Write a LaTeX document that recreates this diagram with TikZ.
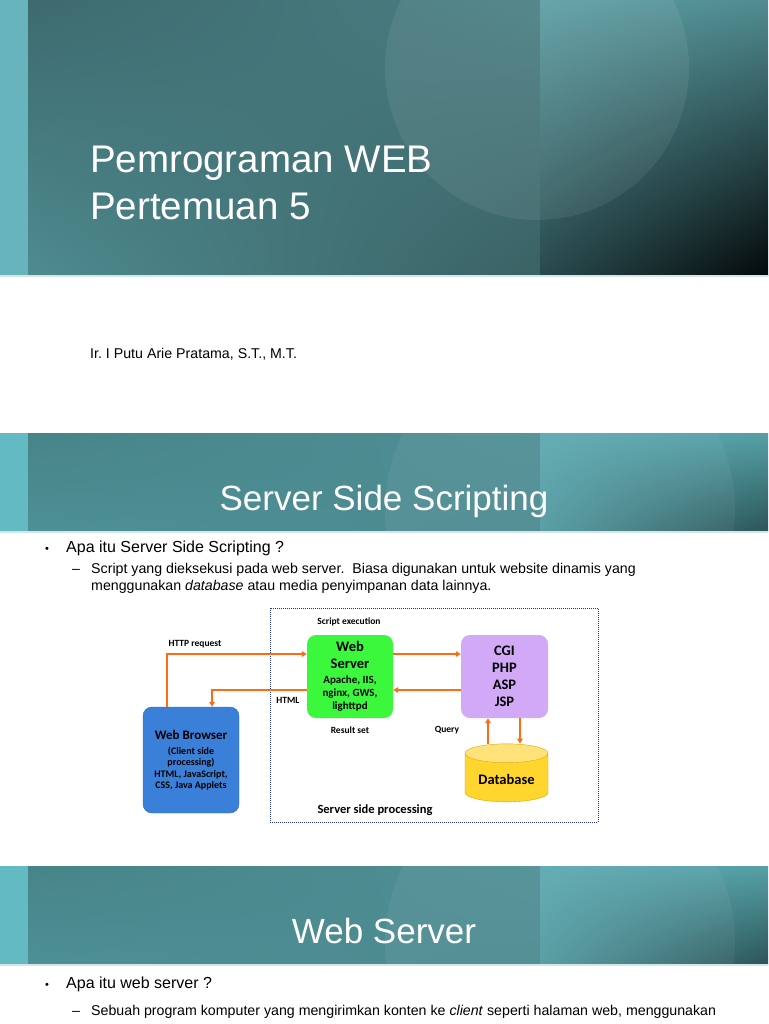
\documentclass[tikz,border=0pt]{standalone}
\usepackage{fontspec}
\setmainfont{Liberation Sans}
\newfontfamily\diagfont{Carlito}
\usepackage{tikz}
\usetikzlibrary{positioning, shapes.geometric, arrows.meta, shadings}
\frenchspacing
\definecolor{stripColor}{HTML}{64BAC3}
\definecolor{lineColor}{HTML}{D3E6E8}
\definecolor{flowColor}{HTML}{FF6A13}
\definecolor{boxColor}{HTML}{23349A}
\definecolor{webGreen}{HTML}{3CF83C}
\definecolor{cgiLilac}{HTML}{D1A9F7}
\definecolor{browserBlue}{HTML}{3B80D8}
\definecolor{browserEdge}{HTML}{2F68B8}
\definecolor{dbBody}{HTML}{FFD52E}
\definecolor{dbTop}{HTML}{FFE27A}
\definecolor{dbEdge}{HTML}{D8A700}
% banner shades
\definecolor{titleUL}{HTML}{3D6A6F}
\definecolor{titleUR}{HTML}{4A7F83}
\definecolor{titleLL}{HTML}{4E8B8F}
\definecolor{titleLR}{HTML}{3A6164}
\definecolor{titleRUL}{HTML}{5C9EA3}
\definecolor{titleRUR}{HTML}{508C91}
\definecolor{titleRLL}{HTML}{294A4D}
\definecolor{titleRLR}{HTML}{04090A}
\definecolor{headUL}{HTML}{478488}
\definecolor{headUR}{HTML}{4F9096}
\definecolor{headLL}{HTML}{4D9096}
\definecolor{headLR}{HTML}{4B8A8F}
\definecolor{headRUL}{HTML}{5DA9B0}
\definecolor{headRUR}{HTML}{55A0A6}
\definecolor{headRLL}{HTML}{529AA1}
\definecolor{headRLR}{HTML}{2C5558}

\begin{document}
\begin{tikzpicture}[x=1pt, y=-1pt,
    headline/.style={text=white, inner sep=0pt, anchor=base west},
    bodytext/.style={inner sep=0pt, anchor=base west, font=\fontsize{14.2}{17}\selectfont},
    srvbox/.style={rounded corners=9pt, minimum width=86pt, minimum height=83pt,
        align=center, inner sep=1pt, font=\diagfont\bfseries\fontsize{14.5}{17}\selectfont},
    tag/.style={inner sep=0pt, font=\diagfont\bfseries\fontsize{9.5}{11}\selectfont},
    flow/.style={-{Triangle[length=5pt,width=5.5pt]}, draw=flowColor, line width=1.6pt}]

    \useasboundingbox (0,0) rectangle (768,1024);
    \fill[white] (0,0) rectangle (768,1024);

    % title slide banner
    \fill[color=stripColor!90!gray] (0,0) rectangle (28,275);
    \shade[upper left=titleUL, upper right=titleUR, lower left=titleLL, lower right=titleLR]
        (28,0) rectangle (540,275);
    \shade[upper left=titleRUL, upper right=titleRUR, lower left=titleRLL, lower right=titleRLR]
        (540,0) rectangle (768,275);
    \begin{scope}
        \clip (28,0) rectangle (768,275);
        \fill[white, opacity=0.07] (537,68) circle (152pt);
    \end{scope}
    \fill[color=lineColor] (0,275) rectangle (768,277);

    % the two section banners
    \foreach \top in {433, 866} {
        \fill[color=stripColor] (0,\top) rectangle (28,\top+98);
        \shade[upper left=headUL, upper right=headUR, lower left=headLL, lower right=headLR]
            (28,\top) rectangle (540,\top+98);
        \shade[upper left=headRUL, upper right=headRUR, lower left=headRLL, lower right=headRLR]
            (540,\top) rectangle (768,\top+98);
        \begin{scope}
            \clip (28,\top) rectangle (768,\top+98);
            \fill[white, opacity=0.05] (560,\top+77) circle (175pt);
        \end{scope}
        \fill[color=lineColor] (0,\top+98) rectangle (768,\top+100);
    }

    % texts of the slides
    \node[headline, font=\fontsize{38.5}{45}\selectfont] (ttl1) at (90,173) {Pemrograman WEB};
    \node[headline, font=\fontsize{38.5}{45}\selectfont] (ttl2) at (90,219) {Pertemuan 5};
    \node[bodytext] (author) at (90,358) {Ir. I Putu Arie Pratama, S.T., M.T.};

    \node[headline, anchor=base, font=\fontsize{35}{40}\selectfont] (sss) at (384,510) {Server Side Scripting};
    \node[bodytext] at (45,552) {\fontsize{11}{12}\selectfont •};
    \node[bodytext, font=\fontsize{16}{19}\selectfont] (q1) at (66,552) {Apa itu Server Side Scripting ?};
    \node[bodytext] at (72,573) {–};
    \node[bodytext] (a1) at (91,573) {Script yang dieksekusi pada web server.\ \ Biasa digunakan untuk website dinamis yang};
    \node[bodytext] (a2) at (91,590) {menggunakan \textit{database} atau media penyimpanan data lainnya.};

    \node[headline, anchor=base, font=\fontsize{35}{40}\selectfont] (wsv) at (384,943) {Web Server};
    \node[bodytext] at (45,988) {\fontsize{11}{12}\selectfont •};
    \node[bodytext, font=\fontsize{16}{19}\selectfont] (q2) at (66,988) {Apa itu web server ?};
    \node[bodytext] at (72,1015) {–};
    \node[bodytext] (b1) at (91,1015) {Sebuah program komputer yang mengirimkan konten ke \textit{client} seperti halaman web, menggunakan};

    % diagram
    \draw[color=boxColor, densely dotted, line width=1pt] (270,608) rectangle (598,822);
    \node[srvbox, fill=webGreen] (websrv) at (350,676.5)
        {Web\\Server\\[-2pt]{\fontsize{11}{13}\selectfont Apache, IIS,}\\[-4pt]{\fontsize{11}{13}\selectfont nginx, GWS,}\\[-4pt]{\fontsize{11}{13}\selectfont lighttpd}};
    \node[srvbox, fill=cgiLilac, minimum width=87pt] (cgi) at (504.5,676.5) {CGI\\PHP\\ASP\\JSP};
    \node[srvbox, fill=browserBlue, draw=browserEdge, minimum width=96pt, minimum height=106pt] (browser) at (191,760)
        {{\fontsize{13}{15}\selectfont Web Browser}\\[-2pt]{\fontsize{10}{12}\selectfont (Client side}\\[-5.5pt]{\fontsize{10}{12}\selectfont processing)}\\[-5.5pt]{\fontsize{10}{12}\selectfont HTML, JavaScript,}\\[-5.5pt]{\fontsize{10}{12}\selectfont CSS, Java Applets}};
    \node[cylinder, shape border rotate=90, aspect=0.3, minimum width=83pt, minimum height=58pt,
        draw=dbEdge, cylinder uses custom fill, cylinder body fill=dbBody, cylinder end fill=dbTop,
        font=\diagfont\bfseries\fontsize{14.5}{17}\selectfont] (db) at (506.5,779.5) {Database};

    \draw[flow] ([xshift=-24pt]browser.north) |- ([yshift=22.5pt]websrv.west);
    \draw[flow] ([yshift=-13.5pt]websrv.west) -| ([xshift=21pt]browser.north);
    \draw[flow] ([yshift=22.5pt]websrv.east) -- ([yshift=22.5pt]cgi.west);
    \draw[flow] ([yshift=-13.5pt]cgi.west) -- ([yshift=-13.5pt]websrv.east);
    \draw[flow] ([xshift=-16.5pt]cgi.south |- db.north) -- ([xshift=-16.5pt]cgi.south);
    \draw[flow] ([xshift=15.5pt]cgi.south) -- ([xshift=15.5pt]cgi.south |- db.north);

    \node[tag] (lblexec) at (349,622) {Script execution};
    \node[tag] (lblhttp) at (195,644) {HTTP request};
    \node[tag] (lblhtml) at (288,700) {HTML};
    \node[tag] (lblres) at (350,730) {Result set};
    \node[tag] (lblquery) at (447,730) {Query};
    \node[tag, font=\diagfont\bfseries\fontsize{12.5}{14}\selectfont] (lblside) at (375,810) {Server side processing};
\end{tikzpicture}
\end{document}
